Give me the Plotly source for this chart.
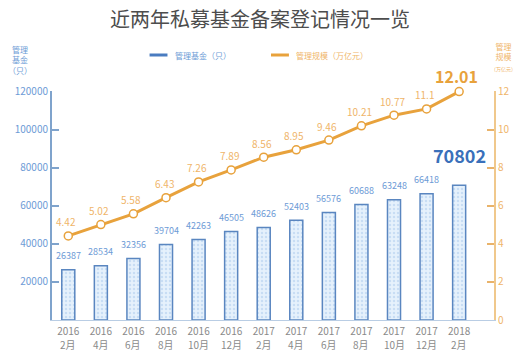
import plotly.graph_objects as go

years = ["2016", "2016", "2016", "2016", "2016", "2016", "2017", "2017", "2017", "2017", "2017", "2017", "2018"]
months = ["2月", "4月", "6月", "8月", "10月", "12月", "2月", "4月", "6月", "8月", "10月", "12月", "2月"]
funds = [26387, 28534, 32356, 39704, 42263, 46505, 48626, 52403, 56576, 60688, 63248, 66418, 70802]
scale = [4.42, 5.02, 5.58, 6.43, 7.26, 7.89, 8.56, 8.95, 9.46, 10.21, 10.77, 11.1, 12.01]
scale_labels = ["4.42", "5.02", "5.58", "6.43", "7.26", "7.89", "8.56", "8.95", "9.46", "10.21", "10.77", "11.1", "12.01"]
left_ticks = [0, 20000, 40000, 60000, 80000, 100000, 120000]
left_tick_text = ["", "20000", "40000", "60000", "80000", "100000", "120000"]
right_ticks = [0, 2, 4, 6, 8, 10, 12]

FONT = "Noto Sans CJK SC"
BLUE = "#4a7cc0"
BLUE_TXT = "#6d9bd6"
ORANGE = "#e8a23c"
ORANGE_TXT = "#efb56a"
GRAY = "#8a8a8a"

xidx = list(range(len(years)))
fig = go.Figure()
fig.add_trace(go.Bar(
    x=xidx, y=funds, width=0.4, showlegend=False,
    marker=dict(color="#e3effb", line=dict(color="#5a86c0", width=1.5),
                pattern=dict(shape=".", fgcolor="#a9c8ec", bgcolor="#e6f1fc", size=4, solidity=0.3)),
    yaxis="y",
))
fig.add_trace(go.Scatter(
    x=xidx, y=scale, mode="lines+markers", showlegend=False, cliponaxis=False,
    line=dict(color=ORANGE, width=3),
    marker=dict(size=8, color="white", line=dict(color=ORANGE, width=1.5)),
    yaxis="y2",
))

annotations = []
n = len(years)
for i in range(n - 1):
    annotations.append(dict(x=xidx[i], y=funds[i], xref="x", yref="y", text=str(funds[i]),
                            showarrow=False, yshift=14, font=dict(size=9, color=BLUE_TXT, family=FONT)))
    annotations.append(dict(x=xidx[i], y=scale[i], xref="x", yref="y2", text=scale_labels[i],
                            showarrow=False, yshift=14, xshift=-2, font=dict(size=10, color=ORANGE_TXT, family=FONT)))
annotations.append(dict(x=xidx[-1], y=funds[-1], xref="x", yref="y", text="<b>%d</b>" % funds[-1],
                        showarrow=False, yshift=30, xshift=0, font=dict(size=18, color="#3a70ba", family=FONT)))
annotations.append(dict(x=xidx[-1], y=scale[-1], xref="x", yref="y2", text="<b>%s</b>" % scale_labels[-1],
                        showarrow=False, yshift=16, xshift=-3, font=dict(size=16, color=ORANGE, family=FONT)))

W, H = 522, 352
L, R, T, B = 52, 26, 91, 32
pw, ph = W - L - R, H - T - B

# month line of the category labels (second line under the year)
for i in range(n):
    annotations.append(dict(x=xidx[i], y=(H - B - 344) / ph, xref="x", yref="paper", text=months[i],
                            showarrow=False, yanchor="middle", font=dict(size=10, color=GRAY, family=FONT)))

def px_ann(x, y, text, size, color):
    return dict(x=(x - L) / pw, y=(H - B - y) / ph, xref="paper", yref="paper", xanchor="center",
                yanchor="middle", text=text, showarrow=False, font=dict(size=size, color=color, family=FONT))

annotations.append(px_ann(W / 2, 18, "近两年私募基金备案登记情况一览", 20, "#4d4d4d"))
a = px_ann(174, 55, "管理基金（只）", 8, BLUE_TXT); a["xanchor"] = "left"; annotations.append(a)
a = px_ann(295, 55, "管理规模（万亿元）", 8, ORANGE_TXT); a["xanchor"] = "left"; annotations.append(a)
annotations.append(px_ann(20, 60, "管理<br>基金<br>（只）", 8, BLUE_TXT))
annotations.append(px_ann(506, 57, "管理<br>规模<br><span style='font-size:5px'>（万亿元）</span>", 8, ORANGE_TXT))

shapes = [
    dict(type="line", xref="paper", yref="paper", x0=(150 - L) / pw, x1=(168 - L) / pw,
         y0=(H - B - 55) / ph, y1=(H - B - 55) / ph, line=dict(color=BLUE, width=3)),
    dict(type="line", xref="paper", yref="paper", x0=(272 - L) / pw, x1=(290 - L) / pw,
         y0=(H - B - 55) / ph, y1=(H - B - 55) / ph, line=dict(color=ORANGE, width=3)),
]

fig.update_layout(
    width=W, height=H, margin=dict(l=L, r=R, t=T, b=B),
    paper_bgcolor="white", plot_bgcolor="white",
    font=dict(family=FONT),
    annotations=annotations, shapes=shapes, bargap=0.6,
    xaxis=dict(tickmode="array", tickvals=xidx, ticktext=years, range=[-0.5, 13.07],
               showgrid=False, zeroline=False, showline=True, linecolor="#b9cde4", linewidth=1,
               ticks="", ticklabelstandoff=2, tickfont=dict(size=10, color=GRAY, family=FONT)),
    yaxis=dict(range=[0, 120400], tickvals=left_ticks, ticktext=left_tick_text, showgrid=False, zeroline=False,
               showline=True, linecolor="#7fa3cc", linewidth=2, ticks="inside", ticklen=7, tickwidth=2,
               tickcolor="#7fa3cc", tickfont=dict(size=10, color=BLUE_TXT, family=FONT)),
    yaxis2=dict(range=[0, 12.04], tickvals=right_ticks, overlaying="y", side="right", showgrid=False, zeroline=False,
                showline=True, linecolor="#f0c88c", linewidth=2, ticks="inside", ticklen=7, tickwidth=2,
                tickcolor="#e9b36a", tickfont=dict(size=10, color=ORANGE_TXT, family=FONT)),
)

fig.write_html("out.html")
